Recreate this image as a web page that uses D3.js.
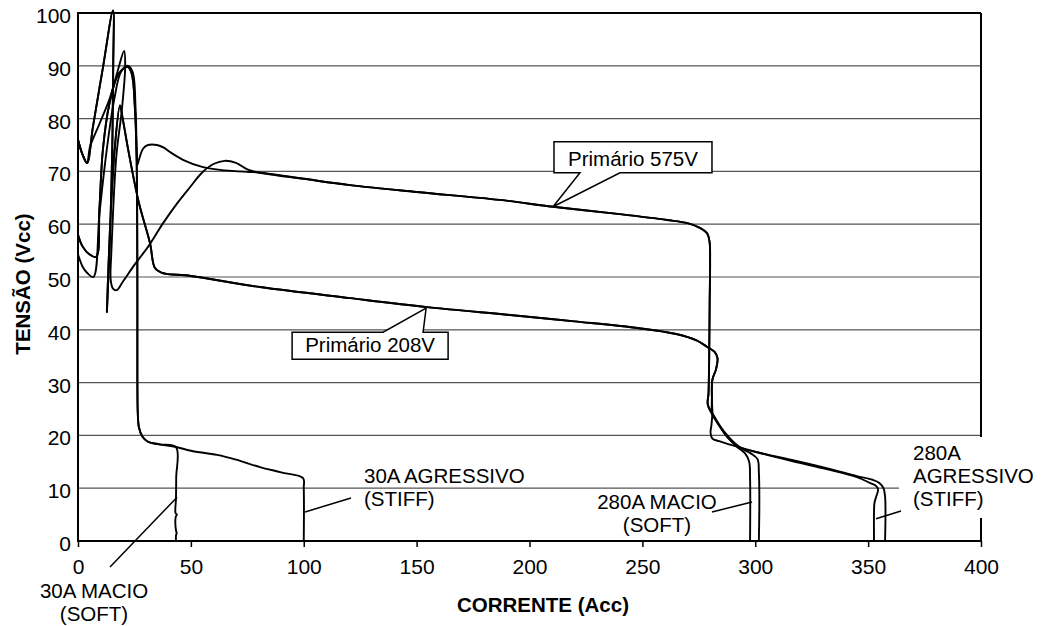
<!DOCTYPE html>
<html>
<head>
<meta charset="utf-8">
<script src="https://cdnjs.cloudflare.com/ajax/libs/d3/7.8.5/d3.min.js"></script>
<style>
  body { margin: 0; background: #fff; }
  svg { display: block; font-family: "Liberation Sans", Arial, sans-serif; }
</style>
</head>
<body>
<svg id="chart" width="1042" height="626"></svg>
<script>
// axis ticks
var xTicks = [0, 50, 100, 150, 200, 250, 300, 350, 400];
var yTicks = [0, 10, 20, 30, 40, 50, 60, 70, 80, 90, 100];

// shared pieces of the traces [corrente A, tensao V]
var start208 = [[0, 76], [2, 73.2], [4, 71.6], [6.6, 78.4], [11.1, 89.8], [15.5, 100.5], [15.6, 90],
    [15.2, 75], [14.2, 58], [12.8, 43.4], [13.5, 52], [14.6, 63], [16.2, 74], [18.6, 82.5], [19.8, 80],
    [22.5, 73.5], [27, 64], [31.9, 56.4], [34.1, 51.7]];
var plateau208 = [[37.2, 50.8], [50, 50.2], [80.6, 48.1], [120.5, 46], [154.6, 44.3], [191.4, 42.8],
    [220, 41.6], [248.6, 40.3], [265, 39.2], [274, 38], [278.6, 36.8], [282, 35.8], [283.3, 34.6],
    [282.6, 32.5], [281, 30.5], [280.8, 27], [281, 24.2]];
var plateau575 = [[80, 69.8], [100, 68.6], [120.5, 67.4], [150, 66.1], [186.9, 64.6], [210.4, 63.3],
    [240, 61.9], [260.9, 60.8], [270, 60.2], [275.5, 59.3], [278.8, 58.2], [279.8, 56.5], [280, 53],
    [279.8, 45], [279.6, 35], [279.3, 28], [279, 25.8]];
var start30 = [[0, 58], [2, 55.8], [5, 54.3], [8, 53.8], [9.5, 63], [11, 74], [14, 83], [18, 88.5],
    [22, 89.8], [23.8, 88.5], [25.2, 82], [25.9, 74], [26.2, 62], [26.3, 45], [26.3, 30], [26.5, 24],
    [27, 21.5], [28.5, 19.8], [31, 18.8], [36, 18.3], [43.4, 17.8]];

// end pieces
var end30Soft = [[43.5, 12], [43.4, 8], [43.2, 5.3], [43.8, 5], [43.3, 4.6], [43.4, 2], [43.7, 1.5],
    [43.4, 1], [43.4, 0]];
var end30Stiff = [[50, 17.1], [61.6, 16.3], [70, 15.4], [80.6, 14], [90, 13], [99.7, 11.9], [100, 10], [100, 0]];
var start575Soft = [[0, 76], [2, 73.2], [4, 71.6], [5.3, 74.6], [9.5, 79], [14.2, 84], [17.7, 89.2],
    [20.4, 92.8], [20.9, 90], [19.5, 82], [17, 73], [15.5, 62], [14.8, 55], [14.5, 49.4], [15.5, 47.8],
    [17.1, 47.5], [20, 49.2], [25, 52.3], [31, 55.7], [37.7, 60.2], [44, 64], [49.6, 67], [55, 69.8],
    [60, 71.4], [65, 72], [70, 71.6], [75, 70.4]];
var start575Stiff = [[0, 54.3], [2, 52], [4, 50.8], [6.8, 50], [9.5, 62], [12.7, 74], [16, 83.5],
    [19, 88.8], [22, 90], [24.2, 88.8], [25.5, 82], [26, 74], [26.3, 71.2], [27, 72.2], [28.8, 74.3],
    [31, 75], [35, 75], [38, 74.5], [41, 73.6], [46.5, 72.2], [55.4, 70.8], [65, 70.2], [76, 69.9]];
var end280Soft575 = [[282, 23.5], [287, 20], [292, 17.8], [295.5, 16.6], [297.3, 15], [297.7, 12], [297.7, 0]];
var end280Soft208 = [[284, 22], [288, 19.8], [293, 17.8], [298, 16.6], [301, 15.5], [301.6, 13], [301.6, 0]];
var end280Stiff575 = [[283, 22.5], [288, 19.6], [293, 17.8], [305, 16.4], [316.7, 15.3], [331.6, 13.8],
    [345, 12.3], [352, 11.6], [355, 11], [356.8, 10], [357.5, 8.5], [357.5, 0]];
var end280Stiff208 = [[280.6, 22], [280.2, 20.5], [281, 19.4], [284, 18.9], [290, 18.1], [300, 16.9],
    [316.7, 15.1], [331.6, 13.6], [345, 12.1], [350.8, 11], [353.6, 10.4], [354.4, 9.7], [353.5, 8.3],
    [352.8, 7.2], [352.6, 5], [352.6, 0]];

var traces = [
    start30.concat(end30Soft),
    start30.concat(end30Stiff),
    start575Soft.concat(plateau575, end280Soft575),
    start575Stiff.concat(plateau575, end280Stiff575),
    start208.concat(plateau208, end280Soft208),
    start208.concat(plateau208, end280Stiff208)
];

var callout575 = "Primário 575V", callout208 = "Primário 208V";
var tip575 = [210.4, 63.3], tip208 = [154.2, 44.1];

var note30Soft = ["30A MACIO", "(SOFT)"], note30Stiff = ["30A AGRESSIVO", "(STIFF)"];
var note280Soft = ["280A MACIO", "(SOFT)"], note280Stiff = ["280A", "AGRESSIVO", "(STIFF)"];

var svg = d3.select("#chart");
var x = d3.scaleLinear().domain([0, 400]).range([78, 981]);
var y = d3.scaleLinear().domain([0, 100]).range([541, 13]);

// gridlines
svg.append("g")
    .selectAll("line")
    .data(yTicks.filter(function (d) { return d > 0; }))
    .enter().append("line")
    .attr("x1", x(0)).attr("x2", x(400))
    .attr("y1", function (d) { return y(d); })
    .attr("y2", function (d) { return y(d); })
    .attr("stroke", function (d) { return d === 100 ? "#000" : "#555"; })
    .attr("stroke-width", function (d) { return d === 100 ? 2 : 1.2; });

// right border
svg.append("line")
    .attr("x1", x(400)).attr("x2", x(400)).attr("y1", y(0)).attr("y2", y(100))
    .attr("stroke", "#000").attr("stroke-width", 2);

// axes
var xAxis = svg.append("g")
    .attr("transform", "translate(0," + y(0) + ")")
    .call(d3.axisBottom(x).tickValues(xTicks).tickSize(6).tickPadding(12));
xAxis.select(".domain").remove();
xAxis.selectAll("line").attr("stroke", "#000").attr("stroke-width", 1.5);
xAxis.selectAll("text").attr("font-size", 21).attr("fill", "#000")
    .attr("font-family", "'Liberation Sans', Arial, sans-serif");

var yAxis = svg.append("g")
    .attr("transform", "translate(" + x(0) + ",0)")
    .call(d3.axisLeft(y).tickValues(yTicks).tickSize(0).tickPadding(7));
yAxis.select(".domain").remove();
yAxis.selectAll("text").attr("font-size", 21).attr("fill", "#000").attr("dy", "0.45em")
    .attr("font-family", "'Liberation Sans', Arial, sans-serif");

svg.append("line")
    .attr("x1", x(0)).attr("x2", x(400)).attr("y1", y(0)).attr("y2", y(0))
    .attr("stroke", "#000").attr("stroke-width", 2);
svg.append("line")
    .attr("x1", x(0)).attr("x2", x(0)).attr("y1", y(0) + 1).attr("y2", y(100) - 1)
    .attr("stroke", "#000").attr("stroke-width", 2);

// white patch behind the 280A AGRESSIVO label
svg.append("rect")
    .attr("x", 899).attr("y", 437).attr("width", 110).attr("height", 81)
    .attr("fill", "#fff");

// traces
var line = d3.line()
    .x(function (d) { return x(d[0]); })
    .y(function (d) { return y(d[1]); })
    .curve(d3.curveCatmullRom.alpha(0.5));

svg.append("g")
    .selectAll("path")
    .data(traces)
    .enter().append("path")
    .attr("d", line)
    .attr("fill", "none")
    .attr("stroke", "#000")
    .attr("stroke-width", 1.9)
    .attr("stroke-linejoin", "round");

// callouts
function callout(tip, text, below) {
    var tx = x(tip[0]), ty = y(tip[1]);
    var L, R, T, B, b1, b2, d;
    if (below) {
        L = tx - 134; R = tx + 22; T = ty + 24; B = ty + 51; b1 = tx - 43; b2 = tx - 3;
        d = "M" + b1 + "," + T + "L" + L + "," + T + "L" + L + "," + B + "L" + R + "," + B +
            "L" + R + "," + T + "L" + b2 + "," + T + "L" + tx + "," + ty + "Z";
    } else {
        L = tx + 1; R = tx + 159; T = ty - 65; B = ty - 34; b1 = tx + 27; b2 = tx + 67;
        d = "M" + b2 + "," + B + "L" + R + "," + B + "L" + R + "," + T + "L" + L + "," + T +
            "L" + L + "," + B + "L" + b1 + "," + B + "L" + tx + "," + ty + "Z";
    }
    svg.append("path").attr("d", d)
        .attr("fill", "#fff").attr("stroke", "#000").attr("stroke-width", 1.5)
        .attr("stroke-linejoin", "miter");
    svg.append("text")
        .attr("x", (L + R) / 2).attr("y", B - 7)
        .attr("text-anchor", "middle").attr("font-size", 20.5)
        .text(text);
}
callout(tip575, callout575, false);
callout(tip208, callout208, true);

// notes with leader lines
function note(lines, tx, ty, anchor, x1, y1, x2, y2) {
    svg.append("line")
        .attr("x1", x1).attr("y1", y1).attr("x2", x2).attr("y2", y2)
        .attr("stroke", "#000").attr("stroke-width", 1.5);
    var t = svg.append("text").attr("font-size", 20.5).attr("text-anchor", anchor);
    lines.forEach(function (s, i) {
        t.append("tspan").attr("x", tx).attr("y", ty + i * 23).text(s);
    });
}
note(note30Soft, 94, 598, "middle", 110, 567, x(43.9), y(8.3));
note(note30Stiff, 364, 483, "start", 351, 498, x(100.6), y(5.5));
note(note280Soft, 657, 509, "middle", 712, 512, x(298.6), y(7.4));
note(note280Stiff, 913, 460, "start", 901, 511, x(353.5), y(4.2));

// axis titles
svg.append("text")
    .attr("x", 543).attr("y", 612)
    .attr("text-anchor", "middle").attr("font-size", 20.5).attr("font-weight", "bold")
    .text("CORRENTE (Acc)");
svg.append("text")
    .attr("transform", "translate(30,284) rotate(-90)")
    .attr("text-anchor", "middle").attr("font-size", 20.5).attr("font-weight", "bold")
    .text("TENSÃO (Vcc)");
</script>
</body>
</html>
